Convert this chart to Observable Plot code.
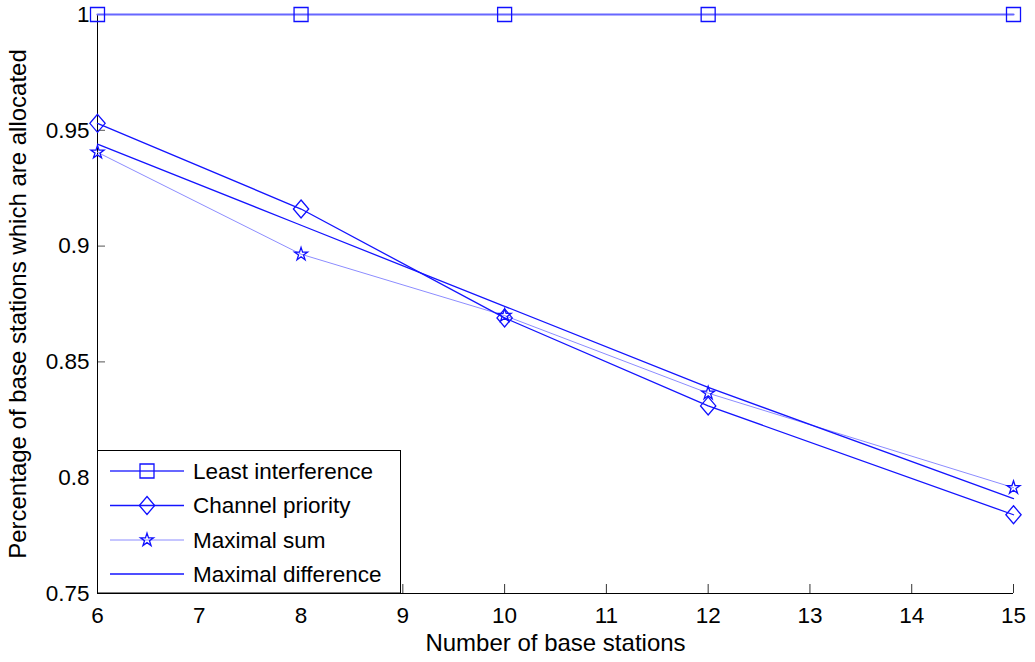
<!DOCTYPE html>
<html>
<head>
<meta charset="utf-8">
<script src="https://cdn.jsdelivr.net/npm/d3@7"></script>
<script src="https://cdn.jsdelivr.net/npm/@observablehq/plot@0.6"></script>
<style>
  html, body { margin: 0; padding: 0; background: #fff; }
  #chart { width: 1035px; height: 662px; }
</style>
</head>
<body>
<div id="chart"></div>
<script>
// ---- data ----
const stations = [6, 8, 10, 12, 15];
const leastInterference = [1, 1, 1, 1, 1];
const channelPriority = [0.953, 0.916, 0.869, 0.831, 0.784];
const maximalSum = [0.9405, 0.8965, 0.870, 0.8365, 0.7957];
const maximalDifference = [0.944, 0.909, 0.874, 0.839, 0.791];
const seriesNames = ["Least interference", "Channel priority", "Maximal sum", "Maximal difference"];
const xTicks = [6, 7, 8, 9, 10, 11, 12, 13, 14, 15];
const yTicks = [0.75, 0.8, 0.85, 0.9, 0.95, 1];
const xLabel = "Number of base stations";
const yLabel = "Percentage of base stations which are allocated";

const rows = (vals) => stations.map((x, i) => ({x, y: vals[i]}));
const dLeast = rows(leastInterference);
const dChan = rows(channelPriority);
const dSum = rows(maximalSum);
const dDiff = rows(maximalDifference);

const diamondSym = {
  draw(ctx, size) {
    const r = Math.sqrt(size / Math.PI);
    const w = r * 0.85;
    ctx.moveTo(0, -r); ctx.lineTo(w, 0); ctx.lineTo(0, r); ctx.lineTo(-w, 0); ctx.closePath();
  }
};

const styles = {
  least: {stroke: "#6767ff", strokeWidth: 2.2},
  chan: {stroke: "#1414ff", strokeWidth: 1.3},
  sum: {stroke: "#8c8cff", strokeWidth: 1},
  diff: {stroke: "#1414ff", strokeWidth: 1.3}
};
const markerStroke = "#1010ff";
const font = "'Liberation Sans', Arial, Helvetica, sans-serif";
const tickFont = 22.5, labelFont = 24, legendFont = 22.5;

const W = 1035, H = 662;
const mL = 97, mR = 22, mT = 14, mB = 69;
const plotW = W - mL - mR, plotH = H - mT - mB;

const chart = Plot.plot({
  width: W, height: H,
  marginLeft: mL, marginRight: mR, marginTop: mT, marginBottom: mB,
  style: {fontFamily: font, fontSize: tickFont + "px", color: "#000", background: "#fff", overflow: "visible"},
  x: {domain: [6, 15]},
  y: {domain: [0.75, 1]},
  marks: [
    Plot.axisX(xTicks, {tickSize: 0, tickPadding: 14, fontSize: tickFont, label: null, tickFormat: d => String(d)}),
    Plot.axisY(yTicks, {tickSize: 0, tickPadding: 8, fontSize: tickFont, label: null, tickFormat: d => String(+d.toFixed(2))}),
    Plot.ruleX(xTicks, {x: d => d, insetTop: plotH - 9, stroke: "#333", strokeWidth: 1}),
    Plot.ruleY(yTicks, {y: d => d, insetRight: plotW - 8, stroke: "#555", strokeWidth: 1}),
    Plot.ruleX([6], {stroke: "#000", strokeWidth: 1}),
    Plot.ruleY([0.75], {stroke: "#000", strokeWidth: 1}),
    Plot.line(dLeast, {x: "x", y: "y", ...styles.least}),
    Plot.line(dSum, {x: "x", y: "y", ...styles.sum}),
    Plot.line(dDiff, {x: "x", y: "y", ...styles.diff}),
    Plot.line(dChan, {x: "x", y: "y", ...styles.chan}),
    Plot.dot(dLeast, {x: "x", y: "y", symbol: "square", r: 7.9, stroke: markerStroke, strokeWidth: 1.3, fill: "none"}),
    Plot.dot(dChan, {x: "x", y: "y", symbol: diamondSym, r: 9, stroke: markerStroke, strokeWidth: 1.3, fill: "none"}),
    Plot.dot(dSum, {x: "x", y: "y", symbol: "star", r: 4.1, stroke: markerStroke, strokeWidth: 1.3, fill: "none"}),
    Plot.text([xLabel], {frameAnchor: "bottom", dy: 50, fontSize: labelFont, fill: "#000", lineAnchor: "middle", textAnchor: "middle"}),
    Plot.text([yLabel], {frameAnchor: "left", dx: -79, rotate: -90, fontSize: labelFont, fill: "#000", lineAnchor: "middle", textAnchor: "middle"})
  ]
});
document.getElementById("chart").appendChild(chart);

// ---- legend (inside the plot area, lower left) ----
const svg = d3.select(chart);
const lg = svg.append("g").attr("font-family", font).attr("font-size", legendFont).attr("text-anchor", "start");
lg.append("rect").attr("x", 97.5).attr("y", 450.5).attr("width", 303).attr("height", 142.5)
  .attr("fill", "#fff").attr("stroke", "#000").attr("stroke-width", 1);
const legendRows = [
  {name: seriesNames[0], st: styles.least, sym: d3.symbolSquare, size: Math.PI * 7.9 * 7.9},
  {name: seriesNames[1], st: styles.chan, sym: diamondSym, size: Math.PI * 81},
  {name: seriesNames[2], st: styles.sum, sym: d3.symbolStar, size: Math.PI * 4.1 * 4.1},
  {name: seriesNames[3], st: styles.diff, sym: null}
];
const rowY = [471, 505.5, 540, 574];
legendRows.forEach((r, i) => {
  const y = rowY[i];
  lg.append("line").attr("x1", 110).attr("x2", 184).attr("y1", y).attr("y2", y)
    .attr("stroke", r.st.stroke).attr("stroke-width", r.st.strokeWidth);
  if (r.sym) {
    lg.append("path").attr("d", d3.symbol(r.sym, r.size)()).attr("transform", `translate(147,${y})`)
      .attr("fill", "none").attr("stroke", markerStroke).attr("stroke-width", 1.3);
  }
  lg.append("text").attr("x", 193).attr("y", y).attr("dy", "0.35em").attr("fill", "#000")
    .attr("text-anchor", "start").text(r.name);
});
</script>
</body>
</html>
